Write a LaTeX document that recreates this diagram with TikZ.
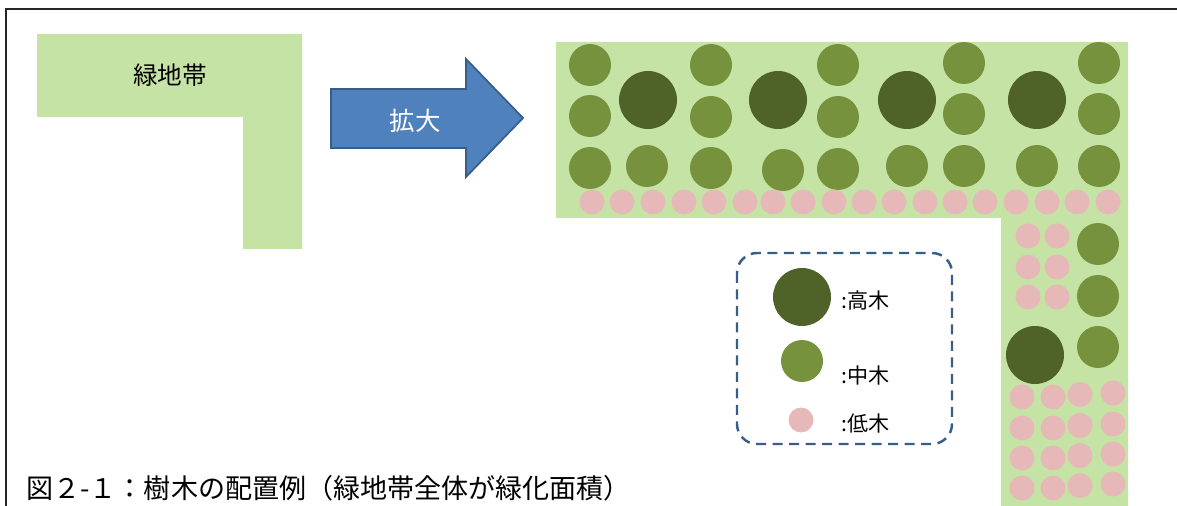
\documentclass[tikz,border=0pt]{standalone}
\usepackage{fontspec}
\setmainfont{Noto Sans CJK JP}
\usepackage{tikz}
\definecolor{beltgreen}{RGB}{197,227,165}
\definecolor{midgreen}{RGB}{118,146,60}
\definecolor{darkgreen}{RGB}{79,98,40}
\definecolor{lowpink}{RGB}{230,185,184}
\definecolor{arrowblue}{RGB}{79,129,189}
\definecolor{edgeblue}{RGB}{56,93,138}
\tikzstyle{hightree}=[circle, inner sep=0pt, minimum size=1.16cm, fill=darkgreen]
\tikzstyle{midtree}=[circle, inner sep=0pt, minimum size=0.84cm, fill=midgreen]
\tikzstyle{lowtree}=[circle, inner sep=0pt, minimum size=0.5cm, fill=lowpink]
\tikzstyle{label}=[inner sep=0pt, font=\fontsize{12}{14}\selectfont, anchor=west]
\newcommand{\hightree}{\node[hightree]}
\newcommand{\midtree}{\node[midtree]}
\newcommand{\lowtree}{\node[lowtree]}

\begin{document}
\begin{tikzpicture}[x=0.02cm, y=-0.02cm]
            \useasboundingbox (0,0) rectangle (1177,506);
            \draw[line width=0.8pt, black!85] (6,506) -- (6,9) -- (1177,9);
            % small belt
            \fill[beltgreen] (37,34) -- (302,34) -- (302,249) -- (243,249) -- (243,117) -- (37,117) -- cycle;
            \node[font=\fontsize{14}{16}\selectfont] (belt) at (170,75) {緑地帯};
            % arrow
            \draw[fill=arrowblue, draw=edgeblue, line width=1pt] (331,89) -- (466,89) -- (466,59) -- (523,118) -- (466,177) -- (466,148) -- (331,148) -- cycle;
            \node[text=white, font=\fontsize{14.5}{16}\selectfont] (zoomtext) at (415,121) {拡大};
            % large belt
            \fill[beltgreen] (556,42) -- (1128,42) -- (1128,506) -- (1001,506) -- (1001,218) -- (556,218) -- cycle;
            \hightree (h1) at (648,100){};
            \hightree (h2) at (778,100){};
            \hightree (h3) at (907,100){};
            \hightree (h4) at (1037,100){};
            \hightree (h5) at (1035,355){};
            \foreach \x/\y [count=\i] in {590/65, 590/116, 590/168, 711/65, 711/117, 711/168,
                838/65, 838/117, 838/169, 964/63, 964/114, 964/166, 1099/63, 1099/114, 1099/166,
                647/166, 783/170, 907/166, 1037/166, 1098/244, 1098/296, 1098/347}
                \midtree (m\i) at (\x,\y){};
            \foreach \x [count=\i] in {592, 622, 653, 684, 714, 745, 773, 803, 834, 864, 894, 925, 955, 985, 1016, 1047, 1077, 1108}
                \lowtree (r\i) at (\x,202){};
            \foreach \x/\y [count=\i] in {1028/236, 1057/236, 1028/267, 1057/267, 1028/297, 1057/297}
                \lowtree (s\i) at (\x,\y){};
            \foreach \y [count=\j] in {397, 428, 458, 488} {
                \lowtree (g\j a) at (1022,\y){};
                \lowtree (g\j b) at (1053,\y){};
                \lowtree (g\j c) at (1080,\y-2.5){};
                \lowtree (g\j d) at (1113,\y-4){};
            }
            % legend
            \draw[edgeblue, line width=1.4pt, dash pattern=on 0.2cm off 0.13cm, rounded corners=0.4cm] (737,253) rectangle (952,444);
            \hightree (kh) at (802,297){};
            \midtree (km) at (802,361){};
            \lowtree (kl) at (801,420){};
            \node[label] (khl) at (841,300) {:高木};
            \node[label] (kml) at (841,375) {:中木};
            \node[label] (kll) at (841,423) {:低木};
            % caption
            \node[anchor=west, inner sep=0pt, font=\fontsize{15.4}{17}\selectfont] (caption) at (26,488) {図２-１：樹木の配置例（緑地帯全体が緑化面積）};
        \end{tikzpicture}
\end{document}
